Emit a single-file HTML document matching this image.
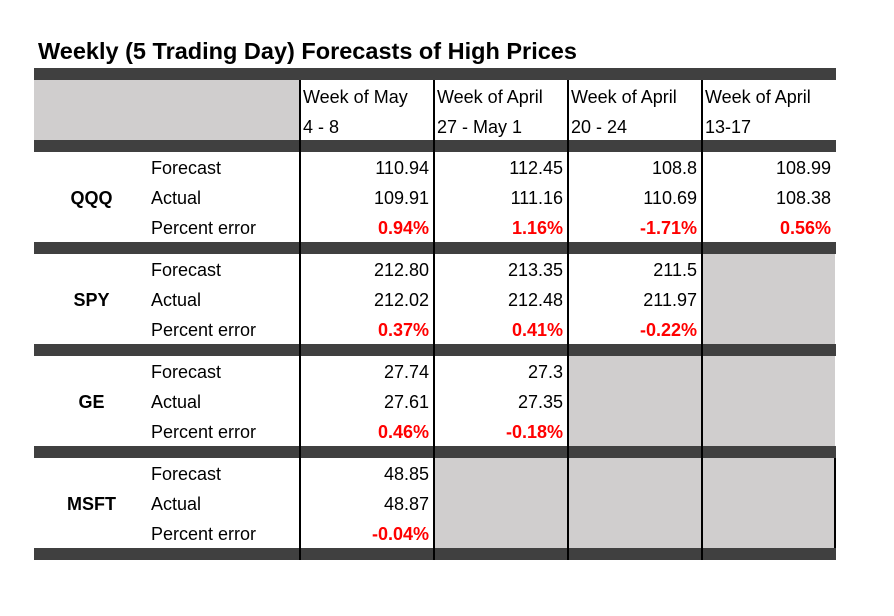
<!DOCTYPE html>
<html><head><meta charset="utf-8">
<style>
body{margin:0;background:#fff;}
#wrap{position:relative;width:894px;height:616px;overflow:hidden;font-family:"Liberation Sans",sans-serif;color:#000;}
#wrap div{position:absolute;}
.t{font-size:18px;line-height:20px;white-space:nowrap;}
.bar{background:#404040;}
.gray{background:#d0cece;}
.vl{background:#000;width:1.5px;}
.red{color:#ff0000;font-weight:bold;}
</style></head>
<body>
<div id="wrap">
<div class="t" style="left:38px;top:37px;font-size:23.5px;line-height:28px;font-weight:bold;">Weekly (5 Trading Day) Forecasts of High Prices</div>
</div>
<script>
const weeks=[["Week of May","4 - 8"],["Week of April","27 - May 1"],["Week of April","20 - 24"],["Week of April","13-17"]];
const tickers=["QQQ","SPY","GE","MSFT"];
const rowLabels=["Forecast","Actual","Percent error"];
const forecasts=[["110.94","112.45","108.8","108.99"],["212.80","213.35","211.5"],["27.74","27.3"],["48.85"]];
const actuals=[["109.91","111.16","110.69","108.38"],["212.02","212.48","211.97"],["27.61","27.35"],["48.87"]];
const errors=[["0.94%","1.16%","-1.71%","0.56%"],["0.37%","0.41%","-0.22%"],["0.46%","-0.18%"],["-0.04%"]];
const W=document.getElementById('wrap');
function mk(cls,name,l,t,w,h,txt){const d=document.createElement('div');d.className=cls;


d.style.left=l+'px';d.style.top=t+'px';if(w!=null)d.style.width=w+'px';if(h!=null)d.style.height=h+'px';if(txt!=null)d.textContent=txt;W.appendChild(d);return d;}
const L=34,R=835,colX=[299,433,567,701,835];
mk('bar','top-bar',L,68,R-L+1,12);
mk('gray','header-blank',L,80,colX[0]-L,60);
mk('bar','header-bar',L,140,R-L+1,12);
weeks.forEach((wk,i)=>{
 mk('t','week-header-'+(i+1),colX[i]+4,87,null,null,wk[0]);
 mk('t','week-header-'+(i+1)+'-line2',colX[i]+4,117,null,null,wk[1]);
});
tickers.forEach((tk,s)=>{
 const top=152+s*102;
 for(let c=forecasts[s].length;c<4;c++) mk('gray','empty-cell',colX[c],top,colX[c+1]-colX[c],90);
 mk('bar','section-bar',L,top+90,R-L+1,12);
 const tl=mk('t','ticker-'+tk.toLowerCase(),L,top+36,115,null,tk);tl.style.fontWeight='bold';tl.style.textAlign='center';
 const data=[forecasts[s],actuals[s],errors[s]];
 rowLabels.forEach((rl,r)=>{
  mk('t','row-label',151,top+6+r*30,null,null,rl);
  data[r].forEach((v,c)=>{
   const d=mk('t'+(r==2?' red':''),tk.toLowerCase()+'-'+rl.toLowerCase().replace(' ','-')+'-w'+(c+1),colX[c],top+6+r*30,colX[c+1]-colX[c]-4,null,v);
   d.style.textAlign='right';
  });
 });
});
colX.forEach((x,i)=>{
 if(i<4) mk('vl','column-divider',x,80,null,480);
});
mk('vl','right-border',R-1,458,null,90);
</script>
</body></html>
